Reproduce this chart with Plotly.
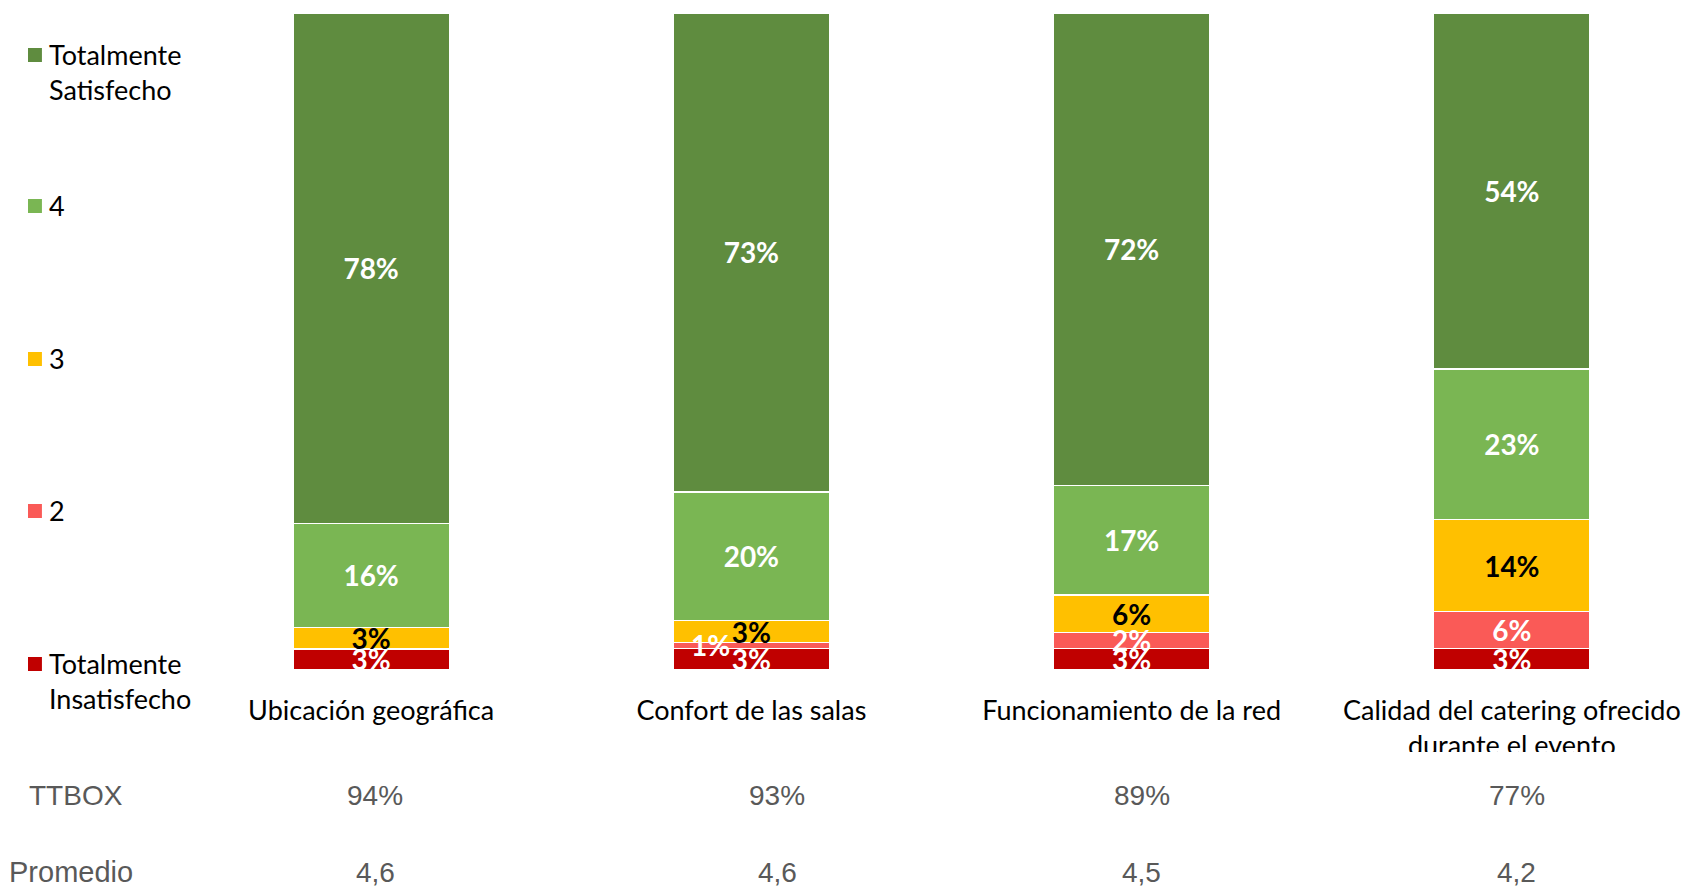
import plotly.graph_objects as go

# ---------------- data ----------------
categories = [
    "Ubicación geográfica",
    "Confort de las salas",
    "Funcionamiento de la red",
    "Calidad del catering ofrecido<br>durante el evento",
]
series_names = ["Totalmente<br>Insatisfecho", "2", "3", "4", "Totalmente<br>Satisfecho"]
insatisfecho = [3.2, 3.3, 3.3, 3.3]
val_2 = [0.0, 0.9, 2.4, 5.6]
val_3 = [3.3, 3.3, 5.7, 14.0]
val_4 = [15.8, 19.6, 16.7, 22.9]
satisfecho = [77.7, 72.9, 71.9, 54.2]
ttbox = ["94%", "93%", "89%", "77%"]
promedio = ["4,6", "4,6", "4,5", "4,2"]

series_values = [insatisfecho, val_2, val_3, val_4, satisfecho]
colors = ["#C00000", "#FA5A57", "#FFC000", "#7AB653", "#5F8C3F"]
label_colors = ["white", "white", "black", "white", "white"]

# ---------------- geometry helpers (window pixels) ----------------
W_FIG, H_FIG = 1691, 887
PLOT_LEFT, PLOT_RIGHT, PLOT_TOP, PLOT_BOTTOM = 180, 1680, 13, 670
L = PLOT_LEFT
R = W_FIG - PLOT_RIGHT
T = PLOT_TOP
B = H_FIG - PLOT_BOTTOM
PW = PLOT_RIGHT - PLOT_LEFT
PH = PLOT_BOTTOM - PLOT_TOP


def px_x(px):
    return (px - PLOT_LEFT) / PW


def px_y(py):
    return (PLOT_BOTTOM - py) / PH


x_idx = list(range(len(categories)))
UNIT = 382.8  # px per category
X0 = -0.5 - 1.0 / UNIT
x_range = [X0, X0 + PW / UNIT]
LABEL_DROP = 4 * 100 / PH  # nudge labels ~4px down (in y data units)

fig = go.Figure()

# stacked bars
for name, vals, col in zip(series_names, series_values, colors):
    fig.add_trace(go.Bar(
        x=x_idx, y=vals, name=name.replace("<br>", " "),
        marker=dict(color=col, line=dict(color="white", width=1.5)),
        width=0.412, showlegend=False, hoverinfo="skip",
    ))

# data labels (clipped to the plot area, like the original)
label_dx = {(1, 1): -41 / UNIT}  # the small "1%" label sits to the left
cum = [0.0] * len(categories)
for s, (vals, lc) in enumerate(zip(series_values, label_colors)):
    xs, ys, txt = [], [], []
    for i, v in enumerate(vals):
        if v > 0:
            xs.append(i + label_dx.get((i, s), 0))
            ys.append(cum[i] + v / 2 - LABEL_DROP)
            txt.append(f"{round(v):.0f}%")
        cum[i] += v
    fig.add_trace(go.Scatter(
        x=xs, y=ys, text=txt, mode="text", textposition="middle center",
        textfont=dict(family="Lato", size=28, color=lc, weight="bold"),
        cliponaxis=True, showlegend=False, hoverinfo="skip",
    ))

# manual legend (top to bottom)
legend_y_px = [55, 206, 359, 511, 664]
for (name, col), ypx in zip(list(zip(series_names, colors))[::-1], legend_y_px):
    fig.add_shape(type="rect", xref="paper", yref="paper",
                  x0=px_x(27), x1=px_x(41), y0=px_y(ypx - 7), y1=px_y(ypx + 7),
                  fillcolor=col, line=dict(width=0))
    fig.add_annotation(xref="paper", yref="paper", x=px_x(46), y=px_y(ypx - 19),
                       xanchor="left", yanchor="top", align="left", showarrow=False,
                       text=name, font=dict(family="Lato", size=27, color="black"))

# clip the second line of the last category label (as in the original)
fig.add_shape(type="rect", xref="paper", yref="paper", layer="above",
              x0=px_x(1380), x1=px_x(1700), y0=px_y(780), y1=px_y(752),
              fillcolor="white", line=dict(width=0))

# summary rows
row_font = dict(family="Liberation Sans", size=28, color="#595959")
row_shift = [4, 26, 10, 5]
fig.add_annotation(xref="paper", yref="paper", x=px_x(26), y=px_y(796), xanchor="left",
                   yanchor="middle", showarrow=False, text="TTBOX", font=row_font)
fig.add_annotation(xref="paper", yref="paper", x=px_x(6), y=px_y(872), xanchor="left",
                   yanchor="middle", showarrow=False, text="Promedio",
                   font=dict(family="Liberation Sans", size=29, color="#595959"))
for i in x_idx:
    fig.add_annotation(xref="x", yref="paper", x=i, xshift=row_shift[i], y=px_y(796),
                       xanchor="center", yanchor="middle", showarrow=False,
                       text=ttbox[i], font=row_font)
    fig.add_annotation(xref="x", yref="paper", x=i, xshift=row_shift[i], y=px_y(872),
                       xanchor="center", yanchor="middle", showarrow=False,
                       text=promedio[i], font=row_font)

fig.update_layout(
    width=W_FIG, height=H_FIG, autosize=False,
    barmode="stack", bargap=0,
    margin=dict(l=L, r=R, t=T, b=B),
    plot_bgcolor="white", paper_bgcolor="white",
    xaxis=dict(range=x_range, tickvals=x_idx, ticktext=categories, showgrid=False,
               zeroline=False, showline=False, ticks="", ticklabelstandoff=22,
               ticklabeloverflow="allow",
               tickfont=dict(family="Lato", size=27, color="black"), fixedrange=True),
    yaxis=dict(range=[0, 100], visible=False, fixedrange=True),
)

fig.write_html(
    "out.html",
    config={"displayModeBar": False, "staticPlot": True},
    post_script="document.body.style.margin='0';"
                "document.documentElement.style.overflow='hidden';",
)
